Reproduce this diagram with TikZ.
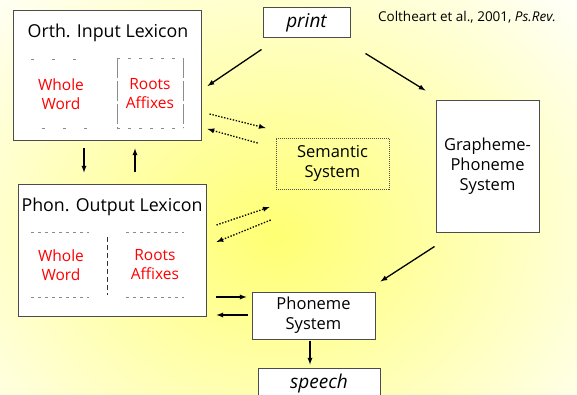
\documentclass[tikz,border=0pt]{standalone}
\usepackage{fontspec}
\setmainfont{Open Sans}
\begin{document}
\begin{tikzpicture}[x=1pt,y=-1pt,
  box/.style={draw=black!70, line width=1pt, fill=white, inner sep=0pt},
  title/.style={font=\fontsize{17.8}{21}\selectfont},
  lbl/.style={font=\fontsize{16.5}{20}\selectfont, align=center},
  redlbl/.style={font=\fontsize{15.5}{19}\selectfont, text=red, align=center},
  arr/.style={-latex, line width=1.3pt},
  dotarr/.style={-latex, line width=1.3pt, dash pattern=on 1.4pt off 1.6pt},
  inner/.style={draw=black!45, line width=0.6pt}
]
\useasboundingbox (0,0) rectangle (577,395);

\begin{scope}
\clip (0,0) rectangle (577,395);
\fill[white] (0,0) rectangle (577,395);
\shade[inner color=yellow!55, outer color=white] (275,235) ellipse (430 and 360);
\end{scope}

\node[box, minimum width=188pt, minimum height=130pt] (orth) at (107,76) {};
\node[title] (orthtitle) at (108,33) {Orth. Input Lexicon};
\node[redlbl] (orthwhole) at (61,94) {Whole\\Word};
\node[redlbl] (orthroots) at (150,94) {Roots\\Affixes};
\draw[inner, dash pattern=on 3pt off 18pt] (31,59) -- (80,59);
\draw[inner, dash pattern=on 3pt off 18pt] (42,128) -- (90,128);
\draw[inner, dash pattern=on 3pt off 8pt] (117,58) -- (183,58);
\draw[inner, dash pattern=on 3pt off 8pt] (117,128) -- (183,128);
\draw[inner, dash pattern=on 20pt off 3pt] (117,58) -- (117,128);
\draw[inner, dash pattern=on 20pt off 3pt] (183,58) -- (183,128);

\node[box, minimum width=87pt, minimum height=30pt, font=\fontsize{19}{21}\selectfont\itshape] (print) at (306.5,23) {print};
\node[font=\fontsize{13.5}{16}\selectfont] (cite) at (467,17) {Coltheart et al., 2001, \textit{Ps.Rev.}};

\node[box, minimum width=103pt, minimum height=131pt, lbl] (gps) at (487.5,166.5) {Grapheme-\\Phoneme\\System};

\node[draw=black!70, line width=0.7pt, dash pattern=on 1pt off 1pt, minimum width=113pt, minimum height=51pt, inner sep=0pt, lbl] (sem) at (332.5,163.5) {Semantic\\System};

\node[box, minimum width=188pt, minimum height=131pt] (phon) at (112,250.5) {};
\node[title] (phontitle) at (112,207) {Phon. Output Lexicon};
\node[redlbl] (phonwhole) at (61,265) {Whole\\Word};
\node[redlbl] (phonroots) at (155,265) {Roots\\Affixes};
\draw[inner, dash pattern=on 3pt off 4pt] (31,232) -- (89,232);
\draw[inner, dash pattern=on 3pt off 4pt] (126,232) -- (184,232);
\draw[inner, dash pattern=on 3pt off 4pt] (31,297) -- (89,297);
\draw[inner, dash pattern=on 3pt off 4pt] (126,297) -- (184,297);
\draw[draw=black!80, line width=0.8pt, dash pattern=on 5pt off 3pt] (107,237) -- (107,295);

\node[box, minimum width=123pt, minimum height=47pt, lbl] (phoneme) at (313.5,315.5) {Phoneme\\System};
\node[box, minimum width=122pt, minimum height=32pt, font=\fontsize{19}{21}\selectfont\itshape] (speech) at (319,384) {speech};

\draw[arr] ([shift={(-1,11)}]print.south west) -- ([shift={(6,10)}]orth.east);
\draw[arr] ([shift={(15,15)}]print.south east) -- ([shift={(-10,-10)}]gps.north west);
\draw[arr] ([shift={(-1,14)}]gps.south west) -- ([shift={(5,-10)}]phoneme.north east);

\draw[arr] ([shift={(-23,7)}]orth.south) -- ([shift={(-28,-12)}]phon.north);
\draw[arr] ([shift={(23,-12)}]phon.north) -- ([shift={(28,7)}]orth.south);

\draw[dotarr] ([shift={(8,38)}]orth.east) -- ([shift={(-10,-35.5)}]sem.west);
\draw[dotarr] ([shift={(-18,-20.5)}]sem.west) -- ([shift={(6,53)}]orth.east);
\draw[dotarr] ([shift={(10,-25.5)}]phon.east) -- ([shift={(-6,43.5)}]sem.west);
\draw[dotarr] ([shift={(-5,56.5)}]sem.west) -- ([shift={(10,-8.5)}]phon.east);

\draw[arr] ([shift={(9,46.5)}]phon.east) -- ([shift={(-5,-18.5)}]phoneme.west);
\draw[arr] ([shift={(-4,-0.5)}]phoneme.west) -- ([shift={(10,64.5)}]phon.east);
\draw[arr] ([shift={(-3.5,1)}]phoneme.south) -- ([shift={(-9,-3)}]speech.north);

\end{tikzpicture}
\end{document}
